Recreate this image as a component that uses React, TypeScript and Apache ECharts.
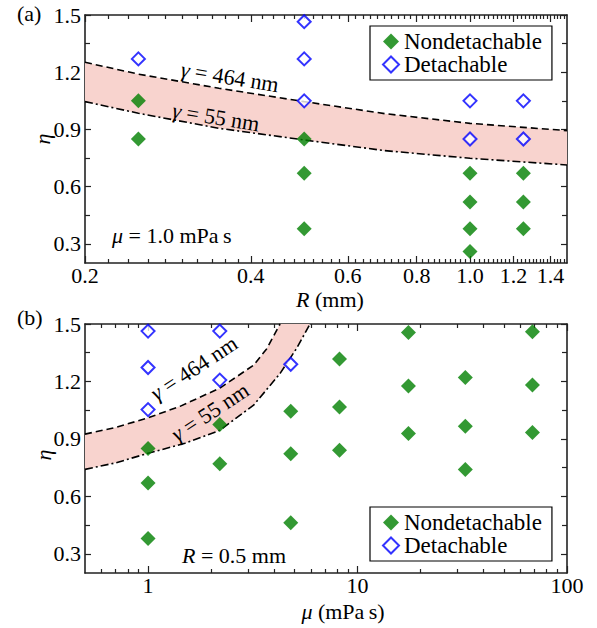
import React, { useEffect, useRef } from "react";
import * as echarts from "echarts";

// ---------- Data (panel a: mu = 1.0 mPa s) ----------
const aNondetR = [0.25, 0.25, 0.5, 0.5, 0.5, 1.0, 1.0, 1.0, 1.0, 1.25, 1.25, 1.25];
const aNondetEta = [1.05, 0.85, 0.85, 0.67, 0.38, 0.67, 0.52, 0.38, 0.26, 0.67, 0.52, 0.38];
const aDetR = [0.25, 0.5, 0.5, 0.5, 1.0, 1.0, 1.25, 1.25];
const aDetEta = [1.27, 1.465, 1.27, 1.05, 1.05, 0.85, 1.05, 0.85];
const aCurveR = [0.2, 0.25, 0.35, 0.5, 0.7, 1.0, 1.5];
const aCurve464 = [1.252, 1.19, 1.116, 1.046, 0.983, 0.932, 0.894];
const aCurve55 = [1.046, 0.985, 0.906, 0.845, 0.789, 0.749, 0.714];

// ---------- Data (panel b: R = 0.5 mm) ----------
const bNondetMu = [1, 1, 1, 2.2, 2.2, 4.8, 4.8, 4.8, 8.2, 8.2, 8.2, 17.5, 17.5, 17.5, 32.7, 32.7, 32.7, 68.4, 68.4, 68.4];
const bNondetEta = [0.85, 0.67, 0.38, 0.975, 0.77, 1.045, 0.823, 0.462, 1.317, 1.067, 0.841, 1.455, 1.176, 0.928, 1.221, 0.966, 0.74, 1.46, 1.181, 0.933];
const bDetMu = [1, 1, 1, 2.2, 2.2, 4.8];
const bDetEta = [1.463, 1.273, 1.053, 1.463, 1.207, 1.29];
const bCurve464Mu = [0.5, 0.7, 1.0, 1.42, 2.2, 3.19, 3.68, 4.27];
const bCurve464 = [0.925, 0.96, 1.01, 1.07, 1.165, 1.285, 1.37, 1.5];
const bCurve55Mu = [0.5, 0.7, 1.0, 1.5, 2.2, 3.19, 4.27, 5.12, 5.93];
const bCurve55 = [0.741, 0.775, 0.825, 0.877, 0.945, 1.076, 1.242, 1.373, 1.5];

// ---------- Axis ticks ----------
const aXMin = 0.2;
const aXMax = 1.5;
const bXMin = 0.5;
const bXMax = 100;
const aXLabels = [0.2, 0.4, 0.6, 0.8, 1.0, 1.2, 1.4];
const aXMinor: number[] = [];
for (let k = 11; k <= 74; k++) {
  if (k % 10 !== 0) aXMinor.push(k / 50);
}
const bXLabels = [1, 10, 100];
const bXMinor = [0.6, 0.7, 0.8, 0.9, 2, 3, 4, 5, 6, 7, 8, 9, 20, 30, 40, 50, 60, 70, 80, 90];
const etaMin = 0.2;
const etaMax = 1.5;
const etaLabels = [0.3, 0.6, 0.9, 1.2, 1.5];
const etaMinor = [0.45, 0.75, 1.05, 1.35];

const FONT = "'Liberation Serif', 'Times New Roman', serif";
const GREEN = "#007f00";
const BLUE = "#0000ff";
const PINK = "#f8d3ce";
const AXIS_COLOR = "#222";

const lg = (v: number) => Math.log10(v);
const pairs = (xs: number[], ys: number[]) => xs.map((x, i) => [lg(x), ys[i]]);

function xAxesFor(grid: number, min: number, max: number, labels: number[], minor: number[], fmt: (v: number) => string) {
  const base = {
    type: "value",
    gridIndex: grid,
    min: lg(min),
    max: lg(max),
    splitLine: { show: false },
  };
  const line = { show: true, onZero: false, lineStyle: { color: AXIS_COLOR, width: 1.6 } };
  const tickStyle = { color: AXIS_COLOR, width: 1.2 };
  return [
    {
      ...base,
      position: "bottom",
      axisLine: line,
      axisTick: { show: true, inside: true, length: 7, customValues: labels.map(lg), lineStyle: tickStyle },
      axisLabel: {
        show: true,
        customValues: labels.map(lg),
        formatter: (v: number) => fmt(v),
        margin: 1,
        fontFamily: FONT,
        fontSize: 22,
        color: "#000",
      },
    },
    {
      ...base,
      position: "bottom",
      axisLine: { show: false, onZero: false },
      axisTick: { show: true, inside: true, length: 4, customValues: minor.map(lg), lineStyle: tickStyle },
      axisLabel: { show: false },
    },
    {
      ...base,
      position: "top",
      axisLine: line,
      axisTick: { show: true, inside: true, length: 7, customValues: labels.map(lg), lineStyle: tickStyle },
      axisLabel: { show: false },
    },
    {
      ...base,
      position: "top",
      axisLine: { show: false, onZero: false },
      axisTick: { show: true, inside: true, length: 4, customValues: minor.map(lg), lineStyle: tickStyle },
      axisLabel: { show: false },
    },
  ];
}

function yAxesFor(grid: number) {
  const base = {
    type: "value",
    gridIndex: grid,
    min: etaMin,
    max: etaMax,
    splitLine: { show: false },
  };
  const line = { show: true, onZero: false, lineStyle: { color: AXIS_COLOR, width: 1.6 } };
  const tickStyle = { color: AXIS_COLOR, width: 1.2 };
  return [
    {
      ...base,
      position: "left",
      axisLine: line,
      axisTick: { show: true, inside: true, length: 6, customValues: etaLabels, lineStyle: tickStyle },
      axisLabel: {
        show: true,
        customValues: etaLabels,
        formatter: (v: number) => v.toFixed(1),
        margin: 4,
        fontFamily: FONT,
        fontSize: 22,
        color: "#000",
      },
    },
    {
      ...base,
      position: "left",
      axisLine: { show: false, onZero: false },
      axisTick: { show: true, inside: true, length: 5, customValues: etaMinor, lineStyle: tickStyle },
      axisLabel: { show: false },
    },
    {
      ...base,
      position: "right",
      axisLine: line,
      axisTick: { show: true, inside: true, length: 6, customValues: etaLabels, lineStyle: tickStyle },
      axisLabel: { show: false },
    },
    {
      ...base,
      position: "right",
      axisLine: { show: false, onZero: false },
      axisTick: { show: true, inside: true, length: 5, customValues: etaMinor, lineStyle: tickStyle },
      axisLabel: { show: false },
    },
  ];
}

function panelSeries(
  axisIdx: number,
  nondet: number[][],
  det: number[][],
  upperX: number[],
  upper: number[],
  lowerX: number[],
  lower: number[]
) {
  return [
    {
      type: "custom",
      xAxisIndex: axisIdx,
      yAxisIndex: axisIdx,
      silent: true,
      z: 1,
      data: [[lg(upperX[0]), upper[0]]],
      renderItem: (params: any, api: any) => {
        const pts: number[][] = [];
        upperX.forEach((x, i) => pts.push(api.coord([lg(x), upper[i]])));
        for (let i = lowerX.length - 1; i >= 0; i--) pts.push(api.coord([lg(lowerX[i]), lower[i]]));
        return { type: "polygon", shape: { points: pts }, style: { fill: PINK } };
      },
    },
    {
      type: "line",
      xAxisIndex: axisIdx,
      yAxisIndex: axisIdx,
      silent: true,
      z: 3,
      symbol: "none",
      data: pairs(upperX, upper),
      lineStyle: { color: "#000", width: 1.6, type: [7, 4] },
    },
    {
      type: "line",
      xAxisIndex: axisIdx,
      yAxisIndex: axisIdx,
      silent: true,
      z: 3,
      symbol: "none",
      data: pairs(lowerX, lower),
      lineStyle: { color: "#000", width: 1.6, type: [8, 3, 2, 3] },
    },
    {
      name: "Nondetachable",
      type: "scatter",
      xAxisIndex: axisIdx,
      yAxisIndex: axisIdx,
      z: 5,
      symbol: "diamond",
      symbolSize: 15,
      itemStyle: { color: GREEN },
      data: nondet,
    },
    {
      name: "Detachable",
      type: "scatter",
      xAxisIndex: axisIdx,
      yAxisIndex: axisIdx,
      z: 5,
      symbol: "diamond",
      symbolSize: 13,
      itemStyle: { color: "#fff", borderColor: BLUE, borderWidth: 2 },
      data: det,
    },
  ];
}

function legendAt(top: number) {
  return {
    orient: "vertical",
    left: 370,
    top,
    padding: [4, 10, 4, 12],
    itemGap: 0,
    itemWidth: 16,
    itemHeight: 16,
    borderColor: "#000",
    borderWidth: 1.2,
    backgroundColor: "#fff",
    selectedMode: false,
    textStyle: { fontFamily: FONT, fontSize: 23, color: "#000", lineHeight: 22 },
    data: [
      { name: "Nondetachable", icon: "diamond" },
      { name: "Detachable", icon: "diamond" },
    ],
  };
}

function txt(x: number, y: number, text: string, opts: any = {}) {
  return {
    type: "text",
    x,
    y,
    rotation: opts.rotation || 0,
    z: 10,
    silent: true,
    style: {
      text,
      fill: "#000",
      fontFamily: FONT,
      fontSize: 22,
      align: opts.align || "center",
      verticalAlign: "middle",
      rich: {
        i: { fontStyle: "italic", fontSize: 22, fontFamily: FONT, fill: "#000" },
      },
    },
  };
}

export default function App() {
  const ref = useRef<HTMLDivElement>(null);
  useEffect(() => {
    if (!ref.current) return;
    const chart = echarts.init(ref.current, undefined, { renderer: "svg" });
    const fmtA = (v: number) => Math.pow(10, v).toFixed(1);
    const fmtB = (v: number) => String(Math.round(Math.pow(10, v)));
    const option: any = {
      animation: false,
      backgroundColor: "#fff",
      textStyle: { fontFamily: FONT },
      grid: [
        { left: 85, top: 15, width: 482, height: 248, containLabel: false },
        { left: 85, top: 324, width: 482, height: 249, containLabel: false },
      ],
      xAxis: [
        ...xAxesFor(0, aXMin, aXMax, aXLabels, aXMinor, fmtA),
        ...xAxesFor(1, bXMin, bXMax, bXLabels, bXMinor, fmtB),
      ],
      yAxis: [...yAxesFor(0), ...yAxesFor(1)],
      legend: [legendAt(26), legendAt(507)],
      series: [
        ...panelSeries(0, pairs(aNondetR, aNondetEta), pairs(aDetR, aDetEta), aCurveR, aCurve464, aCurveR, aCurve55),
        ...panelSeries(4, pairs(bNondetMu, bNondetEta), pairs(bDetMu, bDetEta), bCurve464Mu, bCurve464, bCurve55Mu, bCurve55),
      ],
      graphic: [
        txt(17, 13, "(a)", { align: "left" }),
        txt(17, 317, "(b)", { align: "left" }),
        txt(42, 139, "{i|η}", { rotation: Math.PI / 2 }),
        txt(43, 455, "{i|η}", { rotation: Math.PI / 2 }),
        txt(330, 299, "{i|R} (mm)"),
        txt(343, 611, "{i|μ} (mPa\u2009s)"),
        txt(112, 235, "{i|μ} = 1.0 mPa\u2009s", { align: "left" }),
        txt(182, 555, "{i|R} = 0.5 mm", { align: "left" }),
        txt(230, 77, "{i|γ} = 464 nm", { rotation: -0.16 }),
        txt(216, 117, "{i|γ} = 55 nm", { rotation: -0.16 }),
        txt(194, 368, "{i|γ} = 464 nm", { rotation: 0.58 }),
        txt(210, 412, "{i|γ} = 55 nm", { rotation: 0.58 }),
      ],
    };
    chart.setOption(option);
    return () => chart.dispose();
  }, []);
  return <div ref={ref} style={{ position: "fixed", left: 0, top: 0, width: 597, height: 628 }} />;
}
